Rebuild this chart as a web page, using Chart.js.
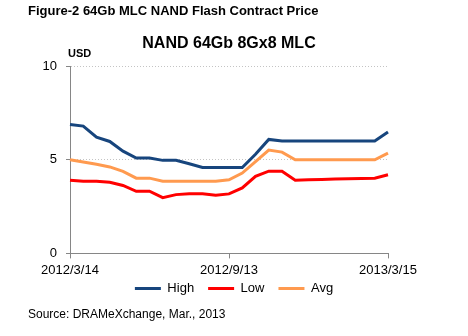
<!DOCTYPE html>
<html lang="en">
<head>
    <meta charset="UTF-8">
    <title>NAND 64Gb 8Gx8 MLC Contract Price</title>
    <style>
        body {
            margin: 0;
            padding: 0;
            background-color: #ffffff;
            font-family: Arial, "Liberation Sans", sans-serif;
        }

        .wrap {
            position: relative;
            width: 468px;
            height: 336px;
        }

        .wrap canvas {
            position: absolute;
            left: 0;
            top: 0;
        }

        .note {
            position: absolute;
            line-height: 1;
            color: #000;
            white-space: nowrap;
        }

        #figTitle { left: 28px; top: 4px; font-size: 13px; font-weight: bold; }
        #unit { left: 68px; top: 48px; font-size: 11px; font-weight: bold; }
        #source { left: 28px; top: 308px; font-size: 12px; }
    </style>
    <script src="https://cdn.jsdelivr.net/npm/chart.js"></script>
</head>
<body>
    <div class="wrap">
        <canvas id="priceChart" width="468" height="336"></canvas>
        <div id="figTitle" class="note">Figure-2 64Gb MLC NAND Flash Contract Price</div>
        <div id="unit" class="note">USD</div>
        <div id="source" class="note">Source: DRAMeXchange, Mar., 2013</div>
    </div>

    <script>
        // semi-monthly contract prices, only three dates are labelled on the axis
        const categories = [
            '2012/3/14', '', '', '', '', '', '', '', '', '', '', '',
            '2012/9/13', '', '', '', '', '', '', '', '', '', '', '',
            '2013/3/15'
        ];
        const highPrice = [6.89, 6.80, 6.21, 5.98, 5.46, 5.09, 5.09, 4.97, 4.97, 4.79, 4.59, 4.59,
                           4.59, 4.59, 5.30, 6.09, 6.00, 6.00, 6.00, 6.00, 6.00, 6.00, 6.00, 6.00, 6.48];
        const lowPrice  = [3.91, 3.86, 3.86, 3.80, 3.63, 3.32, 3.32, 2.98, 3.14, 3.18, 3.18, 3.11,
                           3.18, 3.50, 4.12, 4.39, 4.39, 3.91, 3.93, 3.95, 3.97, 3.99, 4.00, 4.02, 4.20];
        const avgPrice  = [5.00, 4.88, 4.76, 4.62, 4.38, 4.02, 4.02, 3.86, 3.86, 3.86, 3.86, 3.86,
                           3.93, 4.29, 4.90, 5.52, 5.41, 5.00, 5.00, 5.00, 5.00, 5.00, 5.00, 5.00, 5.36];
        const yTicks = [0, 5, 10];

        const axisGray = '#868686';
        const fontFamily = 'Arial, "Liberation Sans", sans-serif';

        // pull the legend up closer to the date labels
        const legendLift = {
            id: 'legendLift',
            afterLayout(chart) {
                chart.legend.top -= 14;
                chart.legend.bottom -= 14;
            }
        };

        const ctx = document.getElementById('priceChart').getContext('2d');
        const priceChart = new Chart(ctx, {
            type: 'line',
            data: {
                labels: categories,
                datasets: [
                    { label: 'High', data: highPrice, borderColor: '#17457d', backgroundColor: '#17457d', borderWidth: 3 },
                    { label: 'Low', data: lowPrice, borderColor: '#ff0000', backgroundColor: '#ff0000', borderWidth: 3 },
                    { label: 'Avg', data: avgPrice, borderColor: '#ff9a4f', backgroundColor: '#ff9a4f', borderWidth: 3 }
                ]
            },
            options: {
                responsive: false,
                animation: false,
                devicePixelRatio: 1,
                elements: {
                    line: { tension: 0, fill: false },
                    point: { radius: 0, hoverRadius: 0 }
                },
                layout: { padding: { top: 0, left: 0, right: 0, bottom: 17 } },
                plugins: {
                    tooltip: { enabled: false },
                    title: {
                        display: true,
                        text: 'NAND 64Gb 8Gx8 MLC',
                        fullSize: false,
                        color: '#000',
                        font: { family: fontFamily, size: 16, weight: 'bold' },
                        padding: { top: 34, bottom: 13 }
                    },
                    legend: {
                        position: 'bottom',
                        labels: {
                            usePointStyle: true,
                            pointStyle: 'line',
                            pointStyleWidth: 26,
                            padding: 14,
                            color: '#000',
                            font: { family: fontFamily, size: 13 }
                        }
                    }
                },
                scales: {
                    x: {
                        offset: false,
                        grid: { drawOnChartArea: false, tickLength: 5, color: axisGray },
                        border: { color: axisGray },
                        ticks: {
                            autoSkip: false,
                            maxRotation: 0,
                            padding: 4,
                            color: '#000',
                            font: { family: fontFamily, size: 13 },
                            callback: (value, i) => categories[i] || null
                        }
                    },
                    y: {
                        min: 0,
                        max: 10,
                        afterBuildTicks: (scale) => { scale.ticks = yTicks.map(v => ({ value: v })); },
                        grid: {
                            tickLength: 4,
                            color: (c) => c.tick && c.tick.value === 0 ? axisGray : '#c4c4c4',
                            tickColor: axisGray
                        },
                        border: { color: axisGray, dash: [1, 2] },
                        ticks: {
                            padding: 9,
                            color: '#000',
                            font: { family: fontFamily, size: 13 }
                        },
                        afterFit: (scale) => { scale.width = 70; }
                    },
                    // empty right axis keeps the plot clear of the right margin
                    yRight: {
                        position: 'right',
                        grid: { display: false },
                        border: { display: false },
                        ticks: { display: false },
                        afterFit: (scale) => { scale.width = 80; }
                    }
                }
            },
            plugins: [legendLift]
        });
    </script>
</body>
</html>
